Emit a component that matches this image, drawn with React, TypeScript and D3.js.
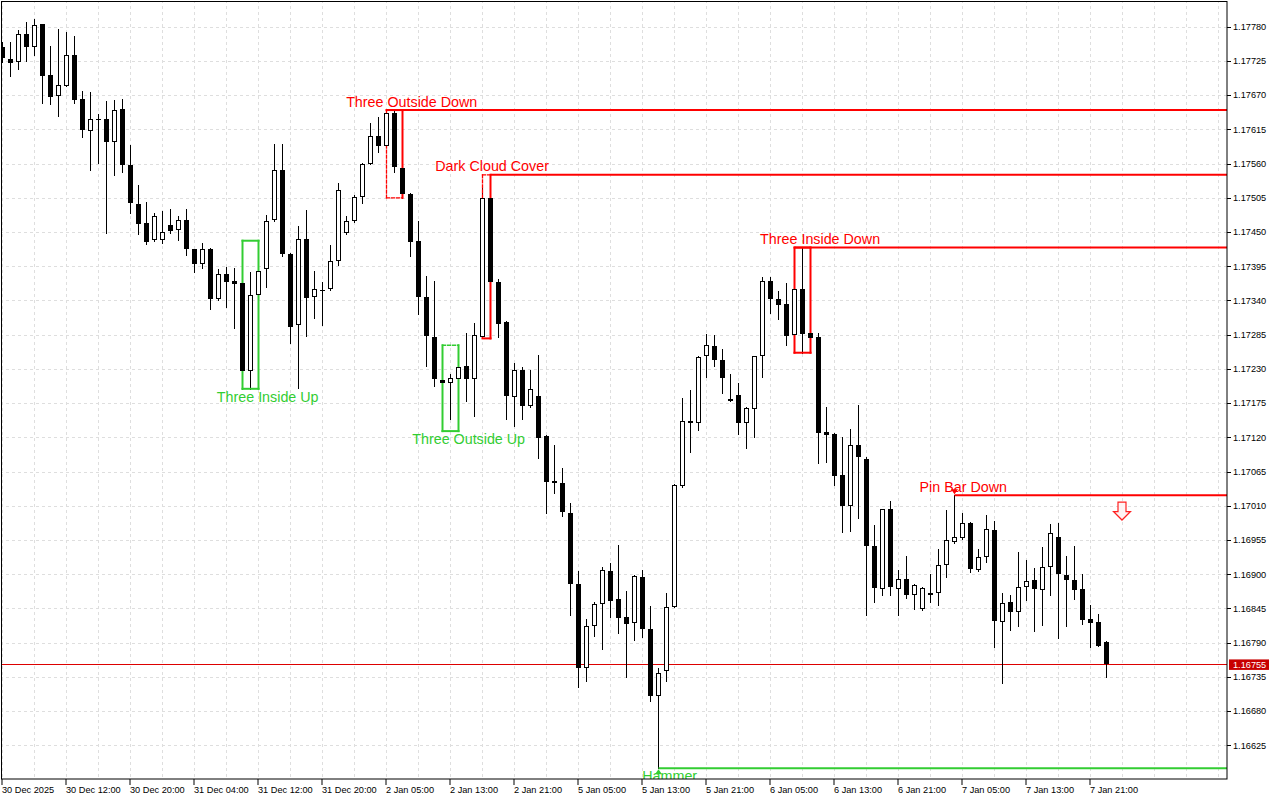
import React from 'react';
import * as d3 from 'd3';

// ---- data (EURUSD H1) ----
const opens = [1.17747,1.17728,1.17723,1.17768,1.17748,1.17784,1.17703,1.17668,1.17685,1.17735,
1.17664,1.17612,1.17631,1.17631,1.17594,1.17648,1.17557,1.17495,1.17464,1.17437,
1.17437,1.17461,1.17453,1.17469,1.17422,1.17399,1.17422,1.17342,1.17382,1.17371,
1.17368,1.17226,1.17348,1.17391,1.17469,1.17550,1.17415,1.17300,1.17438,1.17345,
1.17356,1.17358,1.17403,1.17448,1.17468,1.17506,1.17560,1.17605,1.17589,1.17642,
1.17553,1.17511,1.17436,1.17345,1.17282,1.17212,1.17208,1.17213,1.17234,1.17213,
1.17282,1.17504,1.17369,1.17305,1.17185,1.17228,1.17170,1.17186,1.17122,1.17050,
1.17046,1.16999,1.16884,1.16749,1.16816,1.16852,1.16905,1.16860,1.16831,1.16821,
1.16895,1.16812,1.16704,1.16744,1.16848,1.17042,1.17146,1.17143,1.17250,1.17266,
1.17245,1.17181,1.17188,1.17143,1.17165,1.17250,1.17371,1.17342,1.17334,1.17284,
1.17358,1.17287,1.17281,1.17128,1.17126,1.17059,1.17010,1.17107,1.17085,1.16946,
1.16877,1.17004,1.16877,1.16893,1.16866,1.16844,1.16869,1.16869,1.16914,1.16951,
1.16958,1.16983,1.16906,1.16927,1.16971,1.16823,1.16855,1.16839,1.16879,1.16891,
1.16875,1.16912,1.16959,1.16898,1.16891,1.16876,1.16828,1.16823,1.16791];
const highs = [1.17755,1.17755,1.17775,1.17787,1.17793,1.17784,1.17749,1.17776,1.17771,1.17765,
1.17676,1.17675,1.17640,1.17661,1.17662,1.17663,1.17590,1.17526,1.17498,1.17481,
1.17484,1.17487,1.17475,1.17487,1.17423,1.17432,1.17424,1.17390,1.17393,1.17392,
1.17397,1.17385,1.17436,1.17477,1.17591,1.17591,1.17416,1.17460,1.17485,1.17387,
1.17370,1.17429,1.17528,1.17475,1.17510,1.17561,1.17626,1.17635,1.17646,1.17646,
1.17577,1.17512,1.17467,1.17380,1.17372,1.17235,1.17222,1.17268,1.17287,1.17303,
1.17520,1.17542,1.17375,1.17307,1.17239,1.17233,1.17229,1.17252,1.17123,1.17108,
1.17070,1.17014,1.16905,1.16828,1.16856,1.16911,1.16918,1.16947,1.16873,1.16899,
1.16906,1.16849,1.16750,1.16869,1.17045,1.17184,1.17196,1.17251,1.17286,1.17284,
1.17262,1.17222,1.17208,1.17169,1.17251,1.17377,1.17377,1.17355,1.17368,1.17371,
1.17425,1.17296,1.17287,1.17168,1.17127,1.17120,1.17133,1.17172,1.17088,1.16979,
1.17005,1.17017,1.16907,1.16929,1.16884,1.16879,1.16901,1.16940,1.17003,1.17027,
1.16998,1.16984,1.16940,1.16995,1.16986,1.16869,1.16867,1.16936,1.16923,1.16910,
1.16944,1.16981,1.16983,1.16929,1.16945,1.16900,1.16850,1.16836,1.16792];
const lows = [1.17723,1.17701,1.17712,1.17725,1.17735,1.17658,1.17656,1.17636,1.17684,1.17658,
1.17603,1.17550,1.17561,1.17449,1.17541,1.17547,1.17480,1.17447,1.17430,1.17436,
1.17432,1.17449,1.17437,1.17413,1.17385,1.17392,1.17327,1.17341,1.17329,1.17295,
1.17198,1.17198,1.17283,1.17361,1.17468,1.17412,1.17271,1.17200,1.17283,1.17311,
1.17300,1.17357,1.17397,1.17447,1.17466,1.17497,1.17559,1.17578,1.17588,1.17547,
1.17505,1.17411,1.17319,1.17235,1.17202,1.17130,1.17150,1.17196,1.17178,1.17155,
1.17279,1.17335,1.17282,1.17149,1.17139,1.17149,1.17169,1.17087,1.16999,1.17031,
1.16993,1.16835,1.16719,1.16729,1.16801,1.16780,1.16832,1.16806,1.16735,1.16795,
1.16799,1.16697,1.16588,1.16729,1.16847,1.17040,1.17097,1.17131,1.17217,1.17234,
1.17192,1.17178,1.17125,1.17103,1.17120,1.17217,1.17320,1.17310,1.17268,1.17268,
1.17256,1.17275,1.17078,1.17080,1.17044,1.16968,1.16970,1.16991,1.16834,1.16855,
1.16867,1.16866,1.16834,1.16862,1.16844,1.16843,1.16855,1.16851,1.16896,1.16950,
1.16957,1.16903,1.16905,1.16919,1.16783,1.16725,1.16810,1.16816,1.16859,1.16808,
1.16818,1.16867,1.16797,1.16817,1.16860,1.16820,1.16783,1.16784,1.16734];
const closes = [1.17729,1.17721,1.17768,1.17748,1.17782,1.17701,1.17667,1.17686,1.17734,1.17662,
1.17614,1.17631,1.17631,1.17594,1.17646,1.17557,1.17497,1.17463,1.17434,1.17475,
1.17450,1.17452,1.17469,1.17422,1.17399,1.17422,1.17342,1.17382,1.17370,1.17366,
1.17226,1.17348,1.17388,1.17468,1.17550,1.17415,1.17298,1.17438,1.17344,1.17358,
1.17356,1.17403,1.17518,1.17467,1.17506,1.17559,1.17605,1.17589,1.17641,1.17554,
1.17511,1.17434,1.17345,1.17283,1.17213,1.17208,1.17216,1.17233,1.17213,1.17284,
1.17504,1.17369,1.17302,1.17186,1.17229,1.17170,1.17197,1.17119,1.17049,1.17046,
1.17000,1.16884,1.16749,1.16817,1.16852,1.16907,1.16857,1.16830,1.16820,1.16897,
1.16812,1.16705,1.16742,1.16848,1.17043,1.17146,1.17143,1.17249,1.17268,1.17245,
1.17216,1.17179,1.17143,1.17167,1.17250,1.17371,1.17343,1.17333,1.17283,1.17358,
1.17286,1.17279,1.17127,1.17123,1.17058,1.17010,1.17107,1.17088,1.16946,1.16878,
1.17004,1.16879,1.16893,1.16866,1.16883,1.16878,1.16867,1.16914,1.16955,1.16959,
1.16983,1.16908,1.16927,1.16972,1.16825,1.16854,1.16839,1.16880,1.16889,1.16876,
1.16912,1.16966,1.16900,1.16890,1.16875,1.16827,1.16822,1.16785,1.16755];

const timeLabels = ['30 Dec 2025','30 Dec 12:00','30 Dec 20:00','31 Dec 04:00','31 Dec 12:00','31 Dec 20:00',
'2 Jan 05:00','2 Jan 13:00','2 Jan 21:00','5 Jan 05:00','5 Jan 13:00','5 Jan 21:00',
'6 Jan 05:00','6 Jan 13:00','6 Jan 21:00','7 Jan 05:00','7 Jan 13:00','7 Jan 21:00'];
const timeLabelBars = [0,8,16,24,32,40,48,56,64,72,80,88,96,104,112,120,128,136];
const gridBars = [0,4,8,12,16,20,24,28,32,36,40,44,48,52,56,60,64,68,72,76,80,84,88,92,96,100,
104,108,112,116,120,124,128,132,136,140,144,148,152];
const priceTicks = [1.17780,1.17725,1.17670,1.17615,1.17560,1.17505,1.17450,1.17395,1.17340,1.17285,
1.17230,1.17175,1.17120,1.17065,1.17010,1.16955,1.16900,1.16845,1.16790,1.16735,1.16680,1.16625];

// candlestick patterns: name, first bar, last bar, direction, level line start, label bar, dashed box sides
const patterns = [
  { name: 'Three Outside Down', start: 48, end: 50, dir: 'down', box: true, line: 48, labelBar: 51.15, dashed: 'lb' },
  { name: 'Dark Cloud Cover', start: 60, end: 61, dir: 'down', box: true, line: 61, labelBar: 61.2, dashed: 'tl' },
  { name: 'Three Inside Down', start: 99, end: 101, dir: 'down', box: true, line: 99, labelBar: 102.2, dashed: '' },
  { name: 'Pin Bar Down', start: 119, end: 119, dir: 'down', box: false, line: 119, labelBar: 120.1, dashed: '' },
  { name: 'Three Inside Up', start: 30, end: 32, dir: 'up', box: true, line: -1, labelBar: 33.15, dashed: '' },
  { name: 'Three Outside Up', start: 55, end: 57, dir: 'up', box: true, line: -1, labelBar: 58.27, dashed: 't' },
  { name: 'Hammer', start: 82, end: 82, dir: 'up', box: false, line: 82, labelBar: 83.4, dashed: '' },
];
const signalBars = [140];
const signalPrices = [1.17016];

const RED = '#ff0000';
const GREEN = '#32cd32';
const PLOT_R = 1227;
const PLOT_B = 779;

export default function App() {
  const x = d3.scaleLinear().domain([0, 138]).range([2.5, 1106.5]);
  const y = d3.scaleLinear().domain([1.16625, 1.1778]).range([745.3, 26.7]);
  const idx = d3.range(closes.length);
  const last = closes[closes.length - 1];
  const axisFont = '"Liberation Sans", Arial, sans-serif';

  const wicks = idx.map((i) => (
    <line key={'w' + i} x1={x(i)} x2={x(i)} y1={Math.round(y(highs[i]))} y2={Math.round(y(lows[i])) + 1}
      stroke="#000" strokeWidth={1} />
  ));

  const bodies = idx.map((i) => {
    const o = opens[i], c = closes[i];
    const cx = x(i);
    const top = Math.round(y(Math.max(o, c)));
    const bot = Math.round(y(Math.min(o, c)));
    if (top === bot) {
      return <line key={'b' + i} x1={cx - 2.5} x2={cx + 2.5} y1={top + 0.5} y2={top + 0.5} stroke="#000" />;
    }
    if (c > o) {
      return <rect key={'b' + i} x={cx - 2} y={top + 0.5} width={4} height={Math.max(bot - top - 1, 1)}
        fill="#fff" stroke="#000" strokeWidth={1} />;
    }
    return <rect key={'b' + i} x={cx - 2.5} y={top} width={5} height={Math.max(bot - top, 1)} fill="#000" />;
  });

  const patternMarks = patterns.map((p, k) => {
    const range = d3.range(p.start, p.end + 1);
    const hi = d3.max(range, (i) => highs[i]) as number;
    const lo = d3.min(range, (i) => lows[i]) as number;
    const col = p.dir === 'down' ? RED : GREEN;
    const els: any[] = [];
    if (p.box) {
      const x0 = x(p.start), x1 = x(p.end), y0 = y(hi), y1 = y(lo);
      const sides: [string, number, number, number, number][] = [
        ['t', x0, y0, x1, y0], ['r', x1, y0, x1, y1], ['b', x0, y1, x1, y1], ['l', x0, y0, x0, y1],
      ];
      sides.forEach(([s, a, b, c, d]) => {
        const dashed = p.dashed.includes(s);
        els.push(<line key={'s' + s} x1={a} y1={b} x2={c} y2={d} stroke={col}
          strokeWidth={dashed ? 1.3 : 2} strokeDasharray={dashed ? '3,2' : undefined} strokeLinecap="square" />);
      });
    }
    if (p.line >= 0) {
      const lv = p.dir === 'down' ? hi : lo;
      els.push(<line key="ln" x1={x(p.line)} x2={PLOT_R} y1={y(lv)} y2={y(lv)} stroke={col} strokeWidth={2} />);
    }
    return <g key={'p' + k}>{els}</g>;
  });

  const patternTexts = patterns.map((p, k) => {
    const range = d3.range(p.start, p.end + 1);
    const hi = d3.max(range, (i) => highs[i]) as number;
    const lo = d3.min(range, (i) => lows[i]) as number;
    const col = p.dir === 'down' ? RED : GREEN;
    const ty = p.dir === 'down' ? y(hi) - 3.5 : y(lo) + 12.8;
    const els: any[] = [
      <text key="t" x={x(p.labelBar)} y={ty} textAnchor="middle" fill={col}
        style={{ font: '14.3px "Liberation Sans", Arial, sans-serif' }}>{p.name}</text>,
    ];
    if (!p.box) {
      const cx = x(p.start);
      if (p.dir === 'down') {
        const yh = y(hi);
        els.push(<path key="m" d={`M${cx - 3.5},${yh - 6}L${cx + 3.5},${yh - 6}L${cx},${yh - 1}Z`} fill={col} />);
      } else {
        const yl = y(lo);
        els.push(<path key="m" d={`M${cx - 3.5},${yl + 6}L${cx + 3.5},${yl + 6}L${cx},${yl + 1}Z`} fill={col} />);
      }
    }
    return <g key={'pt' + k}>{els}</g>;
  });

  const signals = signalBars.map((b, k) => {
    const cx = x(b) - 0.5;
    const t = y(signalPrices[k]);
    const d = `M${cx - 4},${t}L${cx + 4},${t}L${cx + 4},${t + 9.5}L${cx + 8.5},${t + 9.5}L${cx},${t + 18}L${cx - 8.5},${t + 9.5}L${cx - 4},${t + 9.5}Z`;
    return <path key={'s' + k} d={d} fill="#fff4f4" stroke="#ff2020" strokeWidth={1.2} />;
  });

  return (
    <svg width={1280} height={800} style={{ position: 'absolute', left: 0, top: 0, background: '#fff' }}>
      <defs>
        <clipPath id="plot"><rect x={2} y={2} width={PLOT_R - 2} height={PLOT_B - 2} /></clipPath>
      </defs>
      <rect x={0} y={0} width={1280} height={800} fill="#fff" />
      <g clipPath="url(#plot)">
        {priceTicks.map((t) => (
          <line key={'hg' + t} x1={0} x2={PLOT_R} y1={Math.round(y(t)) + 0.5} y2={Math.round(y(t)) + 0.5}
            stroke="#dedede" strokeDasharray="3,3" />
        ))}
        {gridBars.map((b) => (
          <line key={'vg' + b} x1={x(b)} x2={x(b)} y1={0} y2={PLOT_B} stroke="#dedede" strokeDasharray="3,3" />
        ))}
        <line x1={0} x2={PLOT_R} y1={Math.round(y(last)) + 0.5} y2={Math.round(y(last)) + 0.5} stroke="#dd0000" strokeWidth={1} />
        {wicks}
        {patternMarks}
        {bodies}
        {patternTexts}
        {signals}
      </g>
      {/* frame */}
      <rect x={1.5} y={1.5} width={PLOT_R - 1.5} height={PLOT_B - 1.5} fill="none" stroke="#000" strokeWidth={1} />
      {/* price axis */}
      {priceTicks.map((t) => (
        <g key={'pt' + t}>
          <line x1={PLOT_R} x2={PLOT_R + 4} y1={Math.round(y(t)) + 0.5} y2={Math.round(y(t)) + 0.5} stroke="#000" />
          <text x={PLOT_R + 6} y={y(t) + 3.3} fill="#000" style={{ font: `9.2px ${axisFont}` }}>{t.toFixed(5)}</text>
        </g>
      ))}
      <rect x={1229} y={y(last) - 5} width={40} height={10.5} fill="#c80000" />
      <text x={1233} y={y(last) + 3.3} fill="#fff" style={{ font: `9.2px ${axisFont}` }}>{last.toFixed(5)}</text>
      {/* time axis */}
      {timeLabelBars.map((b, k) => (
        <g key={'tl' + b}>
          <line x1={x(b) - 0.5} x2={x(b) - 0.5} y1={PLOT_B} y2={PLOT_B + 6} stroke="#000" />
          <text x={x(b) - 0.5} y={PLOT_B + 14} fill="#000" style={{ font: `9.2px ${axisFont}` }}>{timeLabels[k]}</text>
        </g>
      ))}
    </svg>
  );
}
